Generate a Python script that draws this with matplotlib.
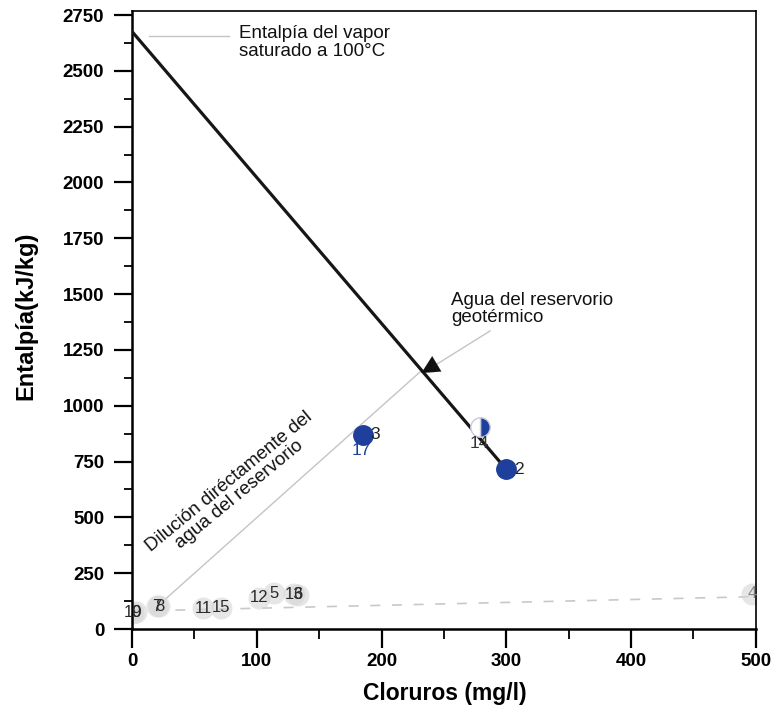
import numpy as np
import matplotlib.pyplot as plt
from matplotlib.ticker import MultipleLocator

plt.rcParams['font.family'] = ['Liberation Sans', 'DejaVu Sans']

# linea de mezcla vapor saturado -> agua del reservorio
mezcla_x = [0, 300]
mezcla_y = [2676, 715]

# linea de dilucion del agua del reservorio
dil_x = [20, 231]
dil_y = [100, 1152]

# linea base (aguas someras)
base_x = [0, 500]
base_y = [80, 145]

# puntos con agua de reservorio (azules)
azul_id = ['2', '3']
azul_x = [300, 185]
azul_y = [715, 870]

p14_x = 279
p14_y = 905

# puntos de baja entalpia
bajos_id = ['10', '9', '7', '8', '11', '15', '12', '5', '13', '6', '4']
bajos_x = [1, 3, 20, 22, 57, 71, 102, 114, 130, 133, 497]
bajos_y = [72, 74, 103, 101, 92, 96, 140, 160, 156, 154, 157]

azul = '#1f3f9c'

fig = plt.figure(figsize=(7.72, 7.08), dpi=100)
ax = fig.add_axes([0.171, 1 - 629 / 708, 0.808, 618 / 708])

ax.plot(base_x, base_y, '--', color='#c8c8c8', lw=1.2, dashes=(6, 7), zorder=1)
ax.plot(dil_x, dil_y, color='#c4c4c4', lw=1.0, zorder=1)
ax.plot(mezcla_x, mezcla_y, color='#161616', lw=2.3, zorder=3)

# halos grises de los puntos bajos
ax.scatter(bajos_x, bajos_y, s=250, color='#d6d6d6', alpha=0.6, linewidths=0, zorder=2)
for i in range(len(bajos_id)):
	c = '#888888' if bajos_id[i] == '4' else '#2a2a2a'
	ax.text(bajos_x[i], bajos_y[i], bajos_id[i], fontsize=12, color=c,
		ha='center', va='center', zorder=4)

# puntos azules
ax.plot(azul_x, azul_y, 'o', color=azul, ms=14, mec=azul, zorder=5)
ax.text(azul_x[0] + 6, azul_y[0], azul_id[0], fontsize=12.5, color='#222222', va='center', zorder=6)
ax.text(azul_x[1] + 6, azul_y[1], azul_id[1], fontsize=12.5, color='#222222', va='center', zorder=6)
ax.text(azul_x[1] - 1, azul_y[1] - 70, '17', fontsize=12.5, color=azul, ha='center', va='center', zorder=6)

ax.plot(p14_x, p14_y, 'o', ms=14, fillstyle='right', markerfacecolor=azul,
	markerfacecoloralt='white', mec='#c9cbe0', mew=1.0, zorder=5)
ax.text(p14_x - 1, p14_y - 75, '14', fontsize=12.5, color='#333333', ha='center', va='center', zorder=6)

# anotaciones
ax.plot([14, 78], [2656, 2656], color='#c4c4c4', lw=1.0)
ax.text(86, 2628, 'Entalpía del vapor\nsaturado a 100°C', fontsize=13.5,
	color='#111111', ha='left', va='center', linespacing=1.05)

ax.plot([287, 234], [1335, 1150], color='#c4c4c4', lw=1.0, zorder=2)
ax.annotate('', xy=(230, 1140), xytext=(242, 1180),
	arrowprops=dict(arrowstyle='-|>', color='#111111', mutation_scale=32, lw=0.1), zorder=4)
ax.text(256, 1433, 'Agua del reservorio\ngeotérmico', fontsize=13.5,
	color='#111111', ha='left', va='center', linespacing=1.0)

ax.text(82, 630, 'Dilución diréctamente del\nagua del reservorio', fontsize=13.5,
	color='#111111', ha='center', va='center', rotation=39.5,
	rotation_mode='anchor', linespacing=1.0)

ax.set_xlim(0, 500)
ax.set_ylim(0, 2768)
ax.xaxis.set_major_locator(MultipleLocator(100))
ax.xaxis.set_minor_locator(MultipleLocator(50))
ax.yaxis.set_major_locator(MultipleLocator(250))
ax.yaxis.set_minor_locator(MultipleLocator(125))

ax.tick_params(axis='x', which='major', direction='out', length=14, width=1.6, pad=3, labelsize=13.5)
ax.tick_params(axis='x', which='minor', direction='out', length=7, width=1.3)
ax.tick_params(axis='y', which='major', direction='out', length=13, width=1.6, pad=7, labelsize=13.5)
ax.tick_params(axis='y', which='minor', direction='out', length=6, width=1.3)
for lab in ax.get_xticklabels() + ax.get_yticklabels():
	lab.set_fontweight('bold')

ax.spines['left'].set_linewidth(1.8)
ax.spines['bottom'].set_linewidth(1.8)
ax.spines['top'].set_linewidth(1.2)
ax.spines['right'].set_linewidth(1.2)

ax.set_xlabel('Cloruros (mg/l)', fontsize=16.5, fontweight='bold')
ax.set_ylabel('Entalpía(kJ/kg)', fontsize=17, fontweight='bold')
ax.xaxis.set_label_coords(0.502, -0.086)
ax.yaxis.set_label_coords(-0.152, 0.506)

plt.savefig('out.png', dpi=100)
